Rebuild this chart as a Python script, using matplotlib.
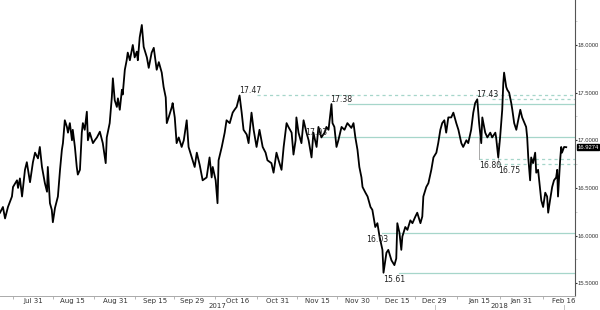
import matplotlib
matplotlib.use("Agg")
import matplotlib.pyplot as plt
import matplotlib.transforms as mtrans
import numpy as np
import pandas as pd

plt.rcParams['font.family'] = ['DejaVu Sans']
NARROW = ['Liberation Sans']

# ---- data (days after 2017-07-31, FX level) ----
start = pd.Timestamp("2017-07-31")
day = [-12.4, -11.3, -10.5, -9.4, -7.9, -7.5, -6.0, -5.6, -4.9, -4.1, -3.0, -2.3, -1.1, 0.0, 0.8, 1.9, 2.6, 3.4, 4.5, 5.3,
       5.6, 6.4, 7.1, 7.5, 8.3, 9.4, 10.2, 10.9, 11.3, 12.0, 12.8, 13.2, 13.9, 14.7, 15.0, 15.8, 16.5, 16.9, 17.7, 18.4,
       18.8, 19.5, 20.3, 20.7, 21.4, 22.6, 23.3, 24.1, 25.2, 26.3, 27.4, 27.8, 28.9, 29.7, 30.1, 30.8, 31.6, 32.0, 32.7, 33.5,
       33.8, 34.6, 35.3, 35.7, 36.5, 37.6, 38.3, 39.1, 39.5, 40.2, 41.0, 41.7, 42.9, 43.6, 44.7, 45.5, 46.6, 47.4, 48.5, 49.2,
       50.0, 50.4, 51.1, 52.3, 52.6, 53.4, 54.1, 54.9, 56.0, 56.8, 57.9, 58.6, 59.8, 60.9, 61.7, 62.8, 63.9, 65.4, 66.5, 67.3,
       67.7, 68.8, 69.5, 69.9, 71.1, 72.2, 72.9, 74.1, 75.2, 75.9, 76.7, 77.8, 78.6, 79.3, 80.5, 81.2, 82.3, 83.1, 84.2, 85.3,
       86.5, 87.6, 88.3, 89.8, 90.6, 91.7, 92.5, 93.6, 94.4, 95.5, 96.2, 97.4, 98.1, 98.9, 99.2, 100.0, 101.1, 101.9, 103.0, 103.8,
       104.9, 105.6, 106.8, 107.5, 108.6, 109.8, 110.5, 111.3, 112.4, 112.8, 113.5, 114.3, 115.0, 116.2, 117.3, 118.4, 119.9, 120.7, 121.4, 122.2,
       122.9, 123.7, 124.1, 125.2, 126.0, 127.1, 127.8, 128.9, 129.7, 130.5, 131.6, 132.0, 133.1, 133.8, 135.0, 136.1, 136.8, 137.2, 138.0, 138.7,
       139.1, 140.2, 141.0, 142.1, 142.9, 144.0, 144.7, 145.9, 146.6, 147.0, 148.1, 148.9, 150.0, 150.8, 151.9, 152.6, 153.4, 154.1, 154.9, 155.6,
       156.4, 157.5, 158.3, 159.4, 160.2, 161.3, 162.0, 163.2, 163.9, 165.0, 165.8, 166.5, 167.3, 168.0, 168.8, 169.2, 170.3, 171.1, 172.2, 172.9,
       174.1, 174.4, 175.2, 175.9, 176.7, 177.1, 177.4, 178.2, 178.6, 179.3, 180.1, 180.5, 181.2, 182.0, 182.7, 183.5, 184.2, 185.7, 186.1, 186.5,
       187.2, 187.6, 188.3, 189.1, 189.5, 190.2, 191.0, 191.4, 192.1, 192.9, 193.6, 194.0, 194.7, 195.5, 196.2, 197.0, 197.4, 197.7, 198.5, 198.9,
       199.2, 200.0, 200.8]
level = [16.24, 16.30, 16.18, 16.30, 16.41, 16.51, 16.58, 16.50, 16.60, 16.41, 16.69, 16.77, 16.56, 16.77, 16.87, 16.81, 16.93, 16.72, 16.55, 16.46,
         16.72, 16.34, 16.27, 16.14, 16.29, 16.41, 16.69, 16.90, 16.97, 17.21, 17.14, 17.08, 17.18, 17.00, 17.11, 16.93, 16.72, 16.64, 16.69, 17.08,
         17.18, 17.11, 17.30, 17.00, 17.08, 16.97, 17.00, 17.03, 17.09, 16.97, 16.76, 17.03, 17.18, 17.45, 17.65, 17.42, 17.35, 17.44, 17.32, 17.53,
         17.48, 17.74, 17.84, 17.92, 17.84, 18.00, 17.87, 17.93, 17.84, 18.08, 18.21, 17.98, 17.87, 17.76, 17.92, 17.97, 17.74, 17.82, 17.71, 17.56,
         17.45, 17.18, 17.24, 17.35, 17.39, 17.24, 16.97, 17.03, 16.93, 17.00, 17.21, 16.93, 16.82, 16.72, 16.87, 16.74, 16.58, 16.61, 16.82, 16.61,
         16.72, 16.58, 16.34, 16.79, 16.93, 17.08, 17.21, 17.18, 17.29, 17.32, 17.35, 17.47, 17.29, 17.11, 17.06, 16.97, 17.29, 17.11, 16.93, 17.11,
         16.93, 16.87, 16.79, 16.76, 16.66, 16.87, 16.79, 16.69, 16.93, 17.18, 17.14, 17.08, 16.85, 17.00, 17.24, 17.08, 16.97, 17.21, 17.08, 17.00,
         16.82, 17.08, 16.93, 17.14, 17.03, 17.08, 17.14, 17.11, 17.38, 17.18, 17.14, 16.93, 17.00, 17.14, 17.11, 17.18, 17.13, 17.18, 17.03, 16.90,
         16.72, 16.61, 16.51, 16.45, 16.41, 16.30, 16.27, 16.09, 16.13, 15.99, 15.85, 15.61, 15.82, 15.85, 15.74, 15.69, 15.76, 16.13, 16.03, 15.85,
         15.99, 16.09, 16.06, 16.16, 16.13, 16.20, 16.24, 16.13, 16.20, 16.41, 16.51, 16.55, 16.69, 16.82, 16.87, 16.97, 17.11, 17.18, 17.21, 17.08,
         17.24, 17.24, 17.29, 17.18, 17.11, 16.97, 16.93, 17.00, 16.97, 17.11, 17.29, 17.39, 17.43, 17.18, 16.97, 17.24, 17.08, 17.03, 17.08, 17.03,
         17.08, 17.03, 16.82, 17.03, 17.32, 17.60, 17.71, 17.56, 17.53, 17.50, 17.39, 17.32, 17.18, 17.11, 17.21, 17.32, 17.24, 17.14, 17.03, 16.82,
         16.58, 16.82, 16.76, 16.87, 16.66, 16.69, 16.48, 16.37, 16.30, 16.45, 16.41, 16.24, 16.37, 16.51, 16.58, 16.61, 16.69, 16.41, 16.79, 16.93,
         16.87, 16.93, 16.9274]

tick_labels = ["Jul 31", "Aug 15", "Aug 31", "Sep 15", "Sep 29", "Oct 16", "Oct 31", "Nov 15", "Nov 30",
               "Dec 15", "Dec 29", "Jan 15", "Jan 31", "Feb 16"]
tick_dates = ["2017-07-31", "2017-08-15", "2017-08-31", "2017-09-15", "2017-09-29", "2017-10-16", "2017-10-31",
              "2017-11-15", "2017-11-30", "2017-12-15", "2017-12-29", "2018-01-15", "2018-01-31", "2018-02-16"]
ytick_vals = [15.5, 16.0, 16.5, 17.0, 17.5, 18.0]
ytick_labels = ["15.5000", "16.0000", "16.5000", "17.0000", "17.5000", "18.0000"]

# reference levels
ref_vals = [17.47, 17.43, 17.38, 17.03, 16.80, 16.75, 16.03, 15.61]
ref_labels = ["17.47", "17.43", "17.38", "17.03", "16.80", "16.75", "16.03", "15.61"]
ref_label_day = [77.5, 167.0, 112.0, 102.5, 168.0, 175.2, 125.5, 132.0]
ref_start_day = [84.5, 172.8, 118.5, 108.5, 168.0, 175.2, 131.5, 138.0]
ref_dashed = [True, True, False, False, True, True, False, False]
ref_below = [False, False, False, False, True, True, True, True]

last_value = 16.9274

# ---- figure ----
fig = plt.figure(figsize=(6.0, 3.1), dpi=100)
ax = fig.add_axes([0.0, 14/310, 575/600, 296/310])

dates = start + pd.to_timedelta(np.array(day), unit="D")
ax.plot(dates, level, color="black", lw=1.3, zorder=3)

ref_color = "#a6d6ca"
xmax = start + pd.Timedelta(days=204.1)
for v, lab, ld, sd, dsh, below in zip(ref_vals, ref_labels, ref_label_day, ref_start_day, ref_dashed, ref_below):
    s = start + pd.Timedelta(days=sd)
    ax.plot([s, xmax], [v, v], color=ref_color, lw=0.9,
            linestyle=(0, (2.5, 2.5)) if dsh else "-", zorder=2)
    ldate = start + pd.Timedelta(days=ld)
    if below:
        ax.text(ldate, v - 0.02, lab, fontsize=5.6, ha="left", va="top", color="#222222", zorder=4)
    else:
        ax.text(ldate, v + 0.005, lab, fontsize=5.6, ha="left", va="bottom", color="#222222", zorder=4)

for v, ld in [(16.80, 168.0), (16.75, 175.2)]:
    d = start + pd.Timedelta(days=ld)
    ax.plot([d, d], [v, v + 0.22], color="#9a9a9a", lw=0.6, zorder=2)

ax.set_xlim(start + pd.Timedelta(days=-12.4), xmax)
ax.set_ylim(15.366, 18.472)

ax.yaxis.tick_right()
ax.set_yticks(ytick_vals)
ax.set_yticklabels(ytick_labels, family=NARROW)
ax.set_yticks([15.75, 16.25, 16.75, 17.25, 17.75, 18.25], minor=True)
ax.tick_params(axis="y", which="major", direction="out", length=1.2, width=0.8, colors="#333333",
               labelsize=4.2, pad=0.5)
ax.tick_params(axis="y", which="minor", direction="out", length=1.2, width=0.5, colors="#bbbbbb")

td = pd.to_datetime(tick_dates)
ax.set_xticks(td)
ax.set_xticklabels(tick_labels)
mids = [td[i] + (td[i + 1] - td[i]) / 2 for i in range(len(td) - 1)]
mids = [td[0] - (td[1] - td[0]) / 2] + mids
ax.set_xticks(mids, minor=True)
ax.tick_params(axis="x", which="major", length=0, labelsize=5.0, pad=1.5, colors="#333333")
ax.tick_params(axis="x", which="minor", direction="out", length=2, width=0.5, color="#999999")

for sp in ["top", "left"]:
    ax.spines[sp].set_visible(False)
ax.spines["right"].set_color("#555555")
ax.spines["right"].set_linewidth(0.8)
ax.spines["bottom"].set_color("#aaaaaa")
ax.spines["bottom"].set_linewidth(0.7)

trans = mtrans.blended_transform_factory(ax.transData, ax.transAxes)
ax.text(start + pd.Timedelta(days=69.5), -0.035, "2017", transform=trans, fontsize=5.0,
        ha="center", va="center", color="#333333")
ax.text(start + pd.Timedelta(days=175.5), -0.035, "2018", transform=trans, fontsize=5.0,
        ha="center", va="center", color="#333333")
for dd in [151.5, 200.0]:
    ax.plot([start + pd.Timedelta(days=dd)] * 2, [-0.03, -0.06], transform=trans, color="#bbbbbb",
            lw=0.6, clip_on=False)

ax.annotate(f"{last_value:.4f}", xy=(1.0, last_value), xycoords=("axes fraction", "data"),
            xytext=(1.6, 0), textcoords="offset points", fontsize=4.2, color="white",
            ha="left", va="center", family=NARROW,
            bbox=dict(boxstyle="square,pad=0.12", fc="black", ec="black"))

fig.savefig("out.png", dpi=100)
